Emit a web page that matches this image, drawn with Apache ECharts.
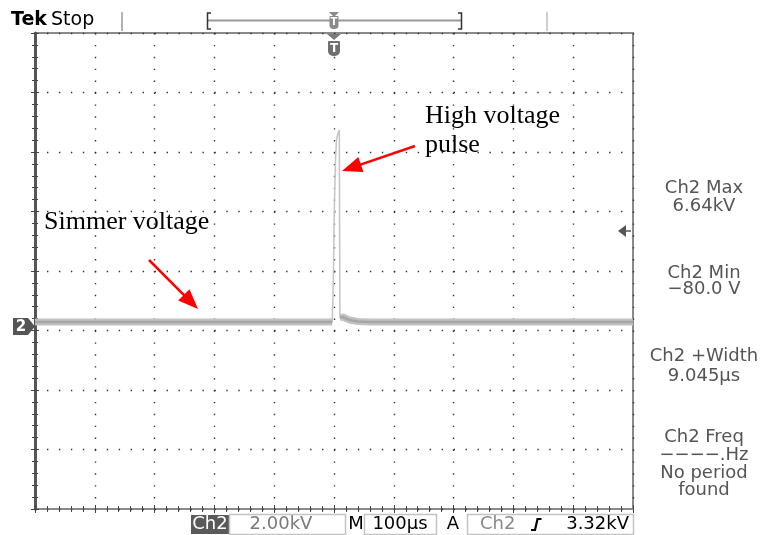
<!DOCTYPE html>
<html><head><meta charset="utf-8">
<script src="https://cdn.jsdelivr.net/npm/echarts@6/dist/echarts.min.js"></script>
<style>html,body{margin:0;padding:0;background:#fff;}#c{width:761px;height:535px;}</style>
</head><body><div id="c"></div>
<script>
// ---- data ----
// time in microseconds (0 = trigger point, screen centre), voltage in kV
const timeUs  = [-500, -3,   -1.7, -0.8, 0,   0.8, 2.5, 4.2, 6.7, 8.9, 9.4, 10,  12,   16,   20,   26,   40,   60,   500];
const voltsKV = [0.15, 0.15, 1.0,  2.0,  3.3, 4.2, 5.6, 6.3, 6.5, 6.6, 3.0, 0.3, 0.33, 0.32, 0.27, 0.22, 0.17, 0.15, 0.15];
const pulseStartUs = -3, pulseEndUs = 10;
// screen: 10 horizontal divisions x 100 us, 8 vertical divisions x 2 kV
const timeRange = [-500, 500];
const voltRange = [-6.134, 9.866];   // ground marker sits 3.07 div above bottom edge
const measurements = [
  ['Ch2 Max', '6.64kV'],
  ['Ch2 Min', '\u221280.0 V'],
  ['Ch2 +Width', '9.045\u00b5s'],
  ['Ch2 Freq', '\u2212\u2212\u2212\u2212.Hz', 'No period', 'found']
];
const statusVolts = '2.00kV', statusTime = '100\u00b5s', statusTrig = '3.32kV';

const tracePairs = timeUs.map((t, i) => [t, voltsKV[i]]);
const bandPairs = [];
tracePairs.forEach(p => {
  if (p[0] <= pulseStartUs || p[0] >= pulseEndUs) bandPairs.push(p);
  if (p[0] === pulseStartUs) bandPairs.push([null, null]);
});

const chart = echarts.init(document.getElementById('c'), null, {renderer: 'canvas'});
const G = {left: 35, top: 33, width: 598, height: 476};
const dotColor = '#333';
const tickCommon = {show: true, inside: true, length: 4, lineStyle: {color: '#444', width: 1}};
const minorCommon = {show: true, splitNumber: 5, length: 3, lineStyle: {color: '#444', width: 1}};
const SANS = 'DejaVu Sans';
const SERIF = 'Liberation Serif';

function txt(x, y, s, opt) {
  return Object.assign({type: 'text', x: x, y: y, style: Object.assign({text: s, font: '18px "' + SANS + '"', fill: '#000', textVerticalAlign: 'middle'}, opt || {})});
}
function arrow(x1, y1, x2, y2) {
  const dx = x2 - x1, dy = y2 - y1, L = Math.hypot(dx, dy);
  const ux = dx / L, uy = dy / L, hl = 20, hw = 8;
  const bx = x2 - ux * hl, by = y2 - uy * hl;
  return [
    {type: 'line', shape: {x1: x1, y1: y1, x2: bx + ux * 2, y2: by + uy * 2}, style: {stroke: '#ff0000', lineWidth: 2.5}},
    {type: 'polygon', shape: {points: [[x2, y2], [bx - uy * hw, by + ux * hw], [bx + uy * hw, by - ux * hw]]}, style: {fill: '#ff0000'}}
  ];
}

const graphics = [];
// header
graphics.push(txt(11, 20, 'Tek', {font: 'bold 19px "' + SANS + '"'}));
graphics.push(txt(51, 20, 'Stop', {font: '19px "' + SANS + '"'}));
graphics.push({type: 'line', shape: {x1: 122, y1: 12, x2: 122, y2: 31}, style: {stroke: '#9a9a9a', lineWidth: 1.5}});
graphics.push({type: 'line', shape: {x1: 547, y1: 12, x2: 547, y2: 31}, style: {stroke: '#cfcfcf', lineWidth: 2}});
graphics.push({type: 'line', shape: {x1: 208, y1: 20.5, x2: 461, y2: 20.5}, style: {stroke: '#9a9a9a', lineWidth: 2}});
graphics.push({type: 'polyline', shape: {points: [[211, 13], [207.5, 13], [207.5, 29], [211, 29]]}, style: {stroke: '#333', lineWidth: 1.5, fill: null}});
graphics.push({type: 'polyline', shape: {points: [[458, 13], [461.5, 13], [461.5, 29], [458, 29]]}, style: {stroke: '#333', lineWidth: 1.5, fill: null}});
graphics.push({type: 'polygon', shape: {points: [[329, 12], [339, 12], [334, 17]]}, style: {fill: '#8a8a8a'}});
graphics.push({type: 'rect', shape: {x: 329.5, y: 16, width: 9, height: 13, r: [1, 1, 4, 4]}, style: {fill: '#8a8a8a'}});
graphics.push({type: 'text', x: 334, y: 22.5, style: {text: 'T', font: 'bold 10px "' + SANS + '"', fill: '#fff', textAlign: 'center', textVerticalAlign: 'middle'}});
// trigger position marker under top edge
graphics.push({type: 'polygon', shape: {points: [[327, 34], [341, 34], [334, 40]]}, style: {fill: '#7a7a7a'}});
graphics.push({type: 'rect', shape: {x: 328, y: 41, width: 12, height: 15, r: [1, 1, 5, 5]}, style: {fill: '#707070'}});
graphics.push({type: 'text', x: 334, y: 48.5, style: {text: 'T', font: 'bold 12px "' + SANS + '"', fill: '#fff', textAlign: 'center', textVerticalAlign: 'middle'}});
// trigger level arrow on right edge
graphics.push({type: 'polygon', shape: {points: [[618, 231], [626, 225], [626, 237]]}, style: {fill: '#555'}});
graphics.push({type: 'line', shape: {x1: 626, y1: 231, x2: 631, y2: 231}, style: {stroke: '#555', lineWidth: 1.5}});
// ground marker "2"
graphics.push({type: 'polygon', shape: {points: [[13, 318], [28, 318], [35, 326.5], [28, 335], [13, 335]]}, style: {fill: '#555'}});
graphics.push({type: 'text', x: 21, y: 327, style: {text: '2', font: 'bold 15px "' + SANS + '"', fill: '#fff', textAlign: 'center', textVerticalAlign: 'middle'}});
// measurements
const mY = [[188, 206], [273, 289], [356, 376], [437, 455, 473, 490]];
measurements.forEach((lines, i) => lines.forEach((s, j) => {
  graphics.push(txt(704, mY[i][j], s, {fill: '#555', textAlign: 'center'}));
}));
// status bar
graphics.push({type: 'rect', shape: {x: 191, y: 515, width: 38, height: 19}, style: {fill: '#5a5a5a'}});
graphics.push(txt(210, 524.5, 'Ch2', {fill: '#fff', textAlign: 'center'}));
graphics.push({type: 'rect', shape: {x: 229.5, y: 514.5, width: 116, height: 20}, style: {fill: null, stroke: '#c4c4c4', lineWidth: 1.5}});
graphics.push(txt(281, 524.5, statusVolts, {fill: '#7a7a7a', textAlign: 'center'}));
graphics.push(txt(356, 524.5, 'M', {textAlign: 'center'}));
graphics.push({type: 'rect', shape: {x: 364.5, y: 514.5, width: 72, height: 20}, style: {fill: null, stroke: '#c4c4c4', lineWidth: 1.5}});
graphics.push(txt(400, 524.5, statusTime, {textAlign: 'center'}));
graphics.push(txt(453, 524.5, 'A', {textAlign: 'center'}));
graphics.push({type: 'rect', shape: {x: 467.5, y: 514.5, width: 166, height: 20}, style: {fill: null, stroke: '#c4c4c4', lineWidth: 1.5}});
graphics.push(txt(480, 524.5, 'Ch2', {fill: '#8a8a8a'}));
graphics.push({type: 'polyline', shape: {points: [[531, 530], [535, 530], [537.5, 519], [541.5, 519]]}, style: {stroke: '#000', lineWidth: 2.2, fill: null}});
graphics.push(txt(629, 524.5, statusTrig, {textAlign: 'right'}));
// annotations
graphics.push({type: 'text', x: 425, y: 116, style: {text: 'High voltage', font: '26px "' + SERIF + '"', fill: '#000', textVerticalAlign: 'middle'}});
graphics.push({type: 'text', x: 425, y: 145, style: {text: 'pulse', font: '26px "' + SERIF + '"', fill: '#000', textVerticalAlign: 'middle'}});
graphics.push({type: 'text', x: 44, y: 222, style: {text: 'Simmer voltage', font: '26px "' + SERIF + '"', fill: '#000', textVerticalAlign: 'middle'}});
arrow(415, 146, 342, 171).forEach(g => graphics.push(g));
arrow(149, 260, 198, 309).forEach(g => graphics.push(g));
graphics.forEach(g => { if (g.z == null) g.z = 100; });

const option = {
  animation: false,
  backgroundColor: '#fff',
  grid: Object.assign({show: true, borderColor: '#8a8a8a', borderWidth: 2, backgroundColor: 'transparent'}, G),
  xAxis: [
    {type: 'value', min: 0, max: 10, interval: 1, position: 'bottom', axisLine: {show: false}, axisTick: tickCommon, minorTick: minorCommon, axisLabel: {show: false},
     splitLine: {show: true, lineStyle: {color: dotColor, width: 1.4, type: [1.4, 10.5]}}},
    {type: 'value', min: 0, max: 10, interval: 1, position: 'top', axisLine: {show: false}, axisTick: tickCommon, minorTick: minorCommon, axisLabel: {show: false}, splitLine: {show: false}},
    {type: 'value', min: timeRange[0], max: timeRange[1], show: false}
  ],
  yAxis: [
    {type: 'value', min: 0, max: 8, interval: 1, position: 'left', axisLine: {show: true, lineStyle: {color: '#555', width: 3}}, axisTick: tickCommon, minorTick: minorCommon, axisLabel: {show: false},
     splitLine: {show: true, lineStyle: {color: dotColor, width: 1.4, type: [1.4, 10.56]}}},
    {type: 'value', min: 0, max: 8, interval: 1, position: 'right', axisLine: {show: false}, axisTick: tickCommon, minorTick: minorCommon, axisLabel: {show: false}, splitLine: {show: false}},
    {type: 'value', min: voltRange[0], max: voltRange[1], show: false}
  ],
  series: [
    {type: 'line', xAxisIndex: 2, yAxisIndex: 2, data: tracePairs, showSymbol: false, silent: true,
     lineStyle: {color: '#c4c4c4', width: 1.5}, z: 3},
    {type: 'line', xAxisIndex: 2, yAxisIndex: 2, data: bandPairs, showSymbol: false, silent: true, connectNulls: false,
     lineStyle: {color: '#c2c2c2', width: 7}, z: 4},
    {type: 'line', xAxisIndex: 2, yAxisIndex: 2, data: bandPairs, showSymbol: false, silent: true, connectNulls: false,
     lineStyle: {color: '#a6a6a6', width: 2.5}, z: 5}
  ],
  graphic: graphics
};
chart.setOption(option);
</script></body></html>
